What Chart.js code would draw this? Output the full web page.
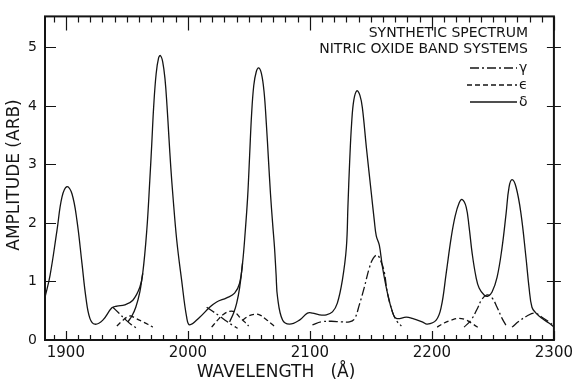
<!DOCTYPE html>
<html>
<head>
<meta charset="utf-8">
<script src="https://cdn.jsdelivr.net/npm/chart.js@4.4.1/dist/chart.umd.min.js"></script>
<style>
  html, body { margin: 0; padding: 0; background: #fff; }
  #wrap { width: 577px; height: 382px; }
</style>
</head>
<body>
<div id="wrap"><canvas id="chart" width="577" height="382"></canvas></div>
<script>
// ---- data (wavelength in Å, amplitude arb.) ----
const totalWl = [1882.9, 1887.0, 1892.7, 1896.8, 1900.9, 1905.0, 1909.1, 1913.2, 1916.4, 1919.7, 1923.8, 1930.3,
  1937.7, 1941.8, 1948.3, 1954.9, 1960.6, 1963.0, 1966.3, 1968.8, 1970.4, 1972.0, 1974.0, 1976.0, 1977.5, 1979.4,
  1981.3, 1982.9, 1984.5, 1986.0, 1987.6, 1990.9, 1994.9, 1999.0, 2001.5, 2009.7, 2017.9, 2023.6, 2031.8, 2038.3,
  2042.4, 2044.8, 2047.0, 2049.0, 2050.6, 2052.2, 2054.0, 2056.0, 2058.0, 2060.2, 2062.4, 2064.3, 2066.0, 2067.7,
  2069.5, 2071.0, 2072.3, 2073.5, 2077.6, 2083.3, 2091.5, 2098.0, 2102.1, 2107.8, 2113.5, 2118.5, 2122.5, 2126.6,
  2129.9, 2131.2, 2132.6, 2134.2, 2136.0, 2138.5, 2141.0, 2143.0, 2146.3, 2150.4, 2152.8, 2154.4, 2156.9, 2159.4,
  2163.4, 2167.5, 2170.8, 2179.0, 2183.9, 2192.1, 2196.2, 2203.5, 2207.6, 2211.7, 2215.8, 2219.1, 2222.3, 2224.8,
  2228.1, 2230.5, 2233.0, 2236.2, 2238.7, 2242.8, 2246.0, 2249.3, 2253.4, 2257.5, 2260.8, 2263.2, 2265.7, 2269.0,
  2273.0, 2277.1, 2279.6, 2282.0, 2285.3, 2290.2, 2295.9, 2300.0];
const totalAmp = [0.73, 1.10, 1.87, 2.44, 2.62, 2.50, 2.04, 1.31, 0.73, 0.37, 0.27, 0.34,
  0.55, 0.58, 0.60, 0.68, 0.90, 1.14, 1.87, 2.73, 3.35, 4.00, 4.55, 4.82, 4.86, 4.75,
  4.45, 4.00, 3.45, 2.95, 2.50, 1.70, 1.02, 0.39, 0.26, 0.39, 0.56, 0.65, 0.72, 0.80,
  0.97, 1.31, 1.85, 2.45, 3.15, 3.85, 4.35, 4.58, 4.65, 4.56, 4.25, 3.70, 3.10, 2.50,
  1.98, 1.58, 1.12, 0.73, 0.34, 0.27, 0.34, 0.46, 0.46, 0.43, 0.43, 0.48, 0.63, 1.02,
  1.58, 2.30, 3.05, 3.70, 4.10, 4.26, 4.18, 3.97, 3.29, 2.50, 2.04, 1.78, 1.62, 1.26,
  0.82, 0.49, 0.37, 0.39, 0.37, 0.31, 0.27, 0.34, 0.56, 1.14, 1.75, 2.12, 2.34, 2.40,
  2.27, 1.93, 1.48, 1.07, 0.89, 0.77, 0.75, 0.82, 1.07, 1.58, 2.16, 2.61, 2.74, 2.61,
  2.16, 1.41, 0.90, 0.56, 0.46, 0.37, 0.29, 0.22];

// delta band flanks where they part from the summed curve (null = break)
const deltaWl  = [1950.8, 1954.1, 1957.3, 1960.6, 1963.0, 2000, 2034.2, 2037.5, 2040.0, 2042.4, 2044.8];
const deltaAmp = [0.31, 0.41, 0.56, 0.82, 1.14, null, 0.31, 0.46, 0.63, 0.89, 1.31];

const gammaWl  = [1938.5, 1943.4, 1948.3, 1953.2, 1958.1, 1990,
  2015.4, 2020.3, 2026.0, 2031.8, 2037.5, 2040.8, 2080,
  2102.1, 2109.5, 2117.6, 2125.8, 2132.4, 2136.5, 2140.5, 2144.6, 2148.7, 2152.0, 2155.3, 2158.5, 2161.0,
  2163.4, 2167.5, 2171.0, 2175.0, 2200,
  2226.4, 2232.1, 2237.1, 2241.1, 2245.2, 2249.3, 2253.4, 2257.5, 2261.6, 2263.5,
  2265.7, 2271.4, 2277.9, 2284.5, 2290.2, 2295.9, 2300.0];
const gammaAmp = [0.56, 0.46, 0.36, 0.27, 0.20, null,
  0.56, 0.49, 0.41, 0.32, 0.24, 0.20, null,
  0.26, 0.31, 0.32, 0.31, 0.31, 0.36, 0.60, 0.90, 1.23, 1.40, 1.45, 1.33, 1.16,
  0.82, 0.49, 0.33, 0.24, null,
  0.22, 0.34, 0.53, 0.70, 0.77, 0.72, 0.56, 0.37, 0.22, null,
  0.22, 0.32, 0.41, 0.46, 0.39, 0.31, 0.24];

const epsWl  = [1941.8, 1945.9, 1950.0, 1953.2, 1957.3, 1962.2, 1967.1, 1971.2, 2000,
  2019.5, 2024.4, 2029.3, 2034.2, 2038.3, 2042.4, 2046.5, 2049.8, 2045,
  2044.8, 2049.8, 2054.7, 2058.7, 2063.7, 2067.7, 2071.8, 2190,
  2204.3, 2210.0, 2215.8, 2222.3, 2228.1, 2233.8, 2238.7];
const epsAmp = [0.24, 0.32, 0.39, 0.41, 0.37, 0.32, 0.27, 0.22, null,
  0.22, 0.34, 0.44, 0.49, 0.48, 0.39, 0.31, 0.24, null,
  0.34, 0.41, 0.44, 0.43, 0.36, 0.29, 0.22, null,
  0.22, 0.29, 0.34, 0.37, 0.34, 0.27, 0.20];

const xTicks = [1900, 2000, 2100, 2200, 2300];
const yTicks = [0, 1, 2, 3, 4, 5];

const INK = '#141414';
const FONT = '"DejaVu Sans", sans-serif';
const pts = (xs, ys) => xs.map((v, i) => ({ x: v, y: ys[i] }));

const line = (label, xs, ys, dash) => ({
  label, data: pts(xs, ys), borderColor: INK, borderWidth: 1.3, borderDash: dash,
  pointRadius: 0, fill: false, spanGaps: false, tension: 0.4
});

// frame with inward ticks, titles and the hand-lettered key
const framePlugin = {
  id: 'frame',
  afterDatasetsDraw(chart) {
    const { ctx, chartArea: a, scales: { x, y } } = chart;
    ctx.save();
    ctx.strokeStyle = INK;
    ctx.lineWidth = 2;
    ctx.strokeRect(a.left, a.top, a.right - a.left, a.bottom - a.top);

    ctx.lineWidth = 1.2;
    ctx.beginPath();
    for (let v = 1890; v <= 2300; v += 10) {
      const px = Math.round(x.getPixelForValue(v)) + 0.5;
      const major = v % 100 === 0;
      ctx.moveTo(px, a.bottom); ctx.lineTo(px, a.bottom - (major ? 9 : 5));
      ctx.moveTo(px, a.top); ctx.lineTo(px, a.top + (major ? 14 : 6));
    }
    yTicks.forEach(v => {
      if (!v) return;
      const py = Math.round(y.getPixelForValue(v)) + 0.5;
      ctx.moveTo(a.left, py); ctx.lineTo(a.left + 11, py);
      ctx.moveTo(a.right - 7, py); ctx.lineTo(a.right + 7, py);
    });
    ctx.stroke();

    ctx.fillStyle = INK;
    ctx.textBaseline = 'middle';

    // axis titles
    ctx.font = '17px ' + FONT;
    ctx.textAlign = 'center';
    ctx.fillText('WAVELENGTH   (Å)', 276, 373);
    ctx.save();
    ctx.translate(15, 175);
    ctx.rotate(-Math.PI / 2);
    ctx.fillText('AMPLITUDE (ARB)', 0, 0);
    ctx.restore();

    // key
    ctx.font = '14px ' + FONT;
    ctx.textAlign = 'right';
    ctx.fillText('SYNTHETIC SPECTRUM', 528, 33);
    ctx.fillText('NITRIC OXIDE BAND SYSTEMS', 528, 49);
    const keys = [[2, 68, 'γ', 470], [3, 85, 'ϵ', 467], [0, 102, 'δ', 470]];
    keys.forEach(([di, ky, sym, x0]) => {
      const ds = chart.data.datasets[di];
      ctx.setLineDash(ds.borderDash || []);
      ctx.lineWidth = 1.3;
      ctx.beginPath();
      ctx.moveTo(x0, ky); ctx.lineTo(517, ky);
      ctx.stroke();
      ctx.setLineDash([]);
      ctx.textAlign = 'left';
      ctx.fillText(sym, 519, ky);
    });
    ctx.restore();
  }
};

new Chart(document.getElementById('chart'), {
  type: 'line',
  data: {
    datasets: [
      line('total', totalWl, totalAmp, []),
      line('δ', deltaWl, deltaAmp, []),
      line('γ', gammaWl, gammaAmp, [9, 3, 2, 3]),
      line('ϵ', epsWl, epsAmp, [5, 3])
    ]
  },
  options: {
    responsive: false,
    animation: false,
    layout: { padding: { top: 15.5, right: 22, left: 0, bottom: 0 } },
    plugins: { legend: { display: false }, tooltip: { enabled: false } },
    scales: {
      x: {
        type: 'linear', min: 1882.9, max: 2300,
        afterBuildTicks: s => { s.ticks = xTicks.map(v => ({ value: v })); },
        afterFit: s => { s.height = 42; },
        grid: { display: false, drawTicks: false }, border: { display: false },
        ticks: { color: INK, font: { family: FONT, size: 15 }, padding: 4, maxRotation: 0,
          callback: v => String(v) }
      },
      y: {
        min: 0, max: 5.53,
        afterBuildTicks: s => { s.ticks = yTicks.map(v => ({ value: v })); },
        afterFit: s => { s.width = 45; },
        grid: { display: false, drawTicks: false }, border: { display: false },
        ticks: { color: INK, font: { family: FONT, size: 14 }, padding: 8 }
      }
    }
  },
  plugins: [framePlugin]
});
</script>
</body>
</html>
